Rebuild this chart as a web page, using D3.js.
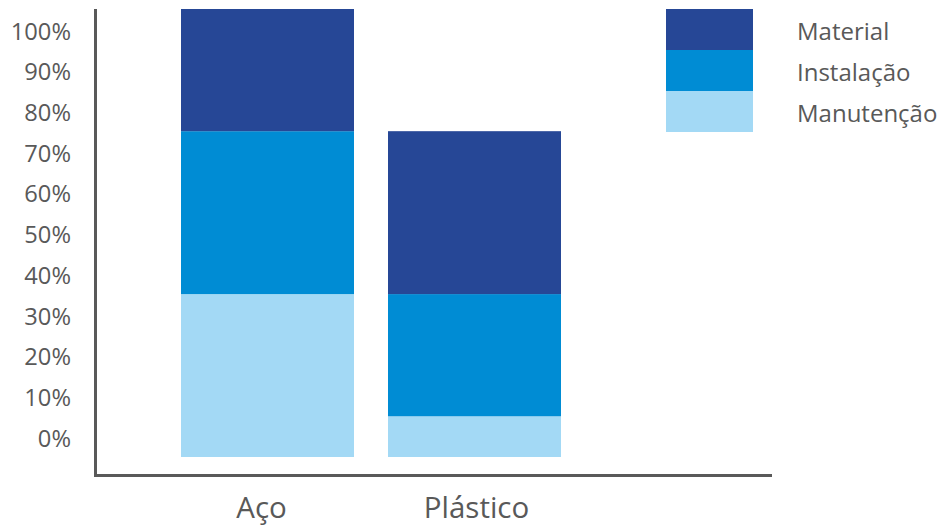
<!DOCTYPE html>
<html>
<head>
<meta charset="utf-8">
<script src="https://cdn.jsdelivr.net/npm/d3@7"></script>
<style>
  body { margin: 0; background: #fff; }
  text { font-family: "Open Sans", sans-serif; fill: #595959; }
</style>
</head>
<body>
<svg id="chart" width="939" height="526"></svg>
<script>
// categories and stacked series (fraction of total)
var categories = ['Aço', 'Plástico'];
var seriesNames = ['Manutenção', 'Instalação', 'Material'];
var manutencao = [0.4, 0.1];
var instalacao = [0.4, 0.3];
var material = [0.3, 0.4];
var yTicks = [0, 0.1, 0.2, 0.3, 0.4, 0.5, 0.6, 0.7, 0.8, 0.9, 1.0];
var colors = ['#a3d9f5', '#008cd4', '#264796'];

var rows = categories.map(function (c, i) {
    return { cat: c, 'Manutenção': manutencao[i], 'Instalação': instalacao[i], 'Material': material[i] };
});

var svg = d3.select('#chart');

var x = d3.scaleBand().domain(categories).range([181, 561]).paddingInner(34 / 207).paddingOuter(0);
var y = d3.scaleLinear().domain([0, 1.1]).range([457, 9]);
var color = d3.scaleOrdinal().domain(seriesNames).range(colors);

var stack = d3.stack().keys(seriesNames);
var layers = stack(rows);

// bars
svg.append('g').selectAll('g')
    .data(layers)
    .enter().append('g')
    .attr('fill', function (d) { return color(d.key); })
    .selectAll('rect')
    .data(function (d) { return d; })
    .enter().append('rect')
    .attr('x', function (d) { return x(d.data.cat); })
    .attr('width', x.bandwidth())
    .attr('y', function (d) { return y(d[1]); })
    .attr('height', function (d) { return y(d[0]) - y(d[1]); });

// axes lines
svg.append('line')
    .attr('x1', 95.5).attr('x2', 95.5).attr('y1', 9).attr('y2', 477)
    .attr('stroke', '#595959').attr('stroke-width', 3);
svg.append('line')
    .attr('x1', 94).attr('x2', 772).attr('y1', 475.5).attr('y2', 475.5)
    .attr('stroke', '#595959').attr('stroke-width', 3);

// y tick labels (sit a bit above their value, like the original)
svg.append('g').selectAll('text')
    .data(yTicks)
    .enter().append('text')
    .attr('x', 71)
    .attr('y', function (d) { return y(d) - 18.5; })
    .attr('dy', '0.35em')
    .attr('text-anchor', 'end')
    .style('font-size', '23.7px')
    .text(d3.format('.0%'));

// category labels
svg.append('g').selectAll('text')
    .data(categories)
    .enter().append('text')
    .attr('x', function (d) { return x(d) + x.bandwidth() / 2 + (d === 'Aço' ? -6 : 2); })
    .attr('y', 508)
    .attr('dy', '0.35em')
    .attr('text-anchor', 'middle')
    .style('font-size', '29.5px')
    .text(function (d) { return d; });

// legend: stacked swatch blocks
var legendOrder = seriesNames.slice().reverse();
var ly = d3.scaleBand().domain(legendOrder).range([9, 132]);

var legend = svg.append('g').selectAll('g')
    .data(legendOrder)
    .enter().append('g');

legend.append('rect')
    .attr('x', 666)
    .attr('width', 87)
    .attr('y', function (d) { return ly(d); })
    .attr('height', ly.bandwidth())
    .attr('fill', function (d) { return color(d); });

legend.append('text')
    .attr('x', 797)
    .attr('y', function (d) { return ly(d) + ly.bandwidth() / 2 + 2; })
    .attr('dy', '0.35em')
    .style('font-size', '24px')
    .text(function (d) { return d; });
</script>
</body>
</html>
